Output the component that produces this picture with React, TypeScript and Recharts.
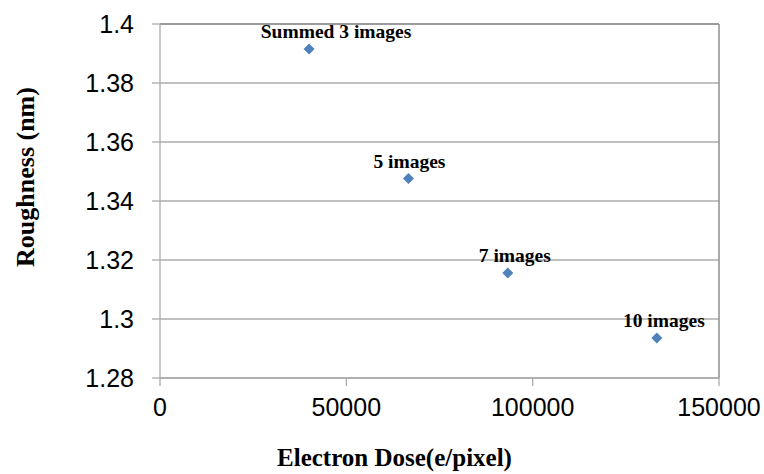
import { ScatterChart, Scatter, XAxis, YAxis, CartesianGrid, ReferenceLine } from "recharts";

// electron dose (e/pixel) vs roughness, one point per number of summed images
const labels = ["Summed 3 images", "5 images", "7 images", "10 images"];
const dose = [40000, 66667, 93333, 133333];
const roughness = [1.3915, 1.3476, 1.3156, 1.2936];

const xTicks = [0, 50000, 100000, 150000];
const yTicks = [1.28, 1.3, 1.32, 1.34, 1.36, 1.38, 1.4];

const points = labels.map((name, i) => ({ name, x: dose[i], y: roughness[i] }));

// Excel-style manual nudges of the data labels, in px
const labelNudge = [27, 1, 7, 7];

const SERIF = "'Liberation Serif', 'Times New Roman', serif";
const SANS = "'Liberation Sans', Arial, sans-serif";
const GRID = "#ababab";

function Marker(props: any) {
  const { cx, cy, payload, index } = props;
  const r = 5.5;
  const i = index ?? labels.indexOf(payload?.name);
  return (
    <g>
      <polygon
        points={`${cx},${cy - r} ${cx + r},${cy} ${cx},${cy + r} ${cx - r},${cy}`}
        fill="#4f81bd"
      />
      <text
        x={cx + (labelNudge[i] ?? 0)}
        y={cy - 11}
        textAnchor="middle"
        fontFamily={SERIF}
        fontWeight="bold"
        fontSize={19.5}
        fill="#000"
      >
        {payload?.name}
      </text>
    </g>
  );
}

const fmt = (v: number) => String(Number(v.toFixed(2)));

export default function App() {
  return (
    <div style={{ position: "absolute", left: 0, top: 0, background: "#fff" }}>
      <ScatterChart
        width={764}
        height={474}
        margin={{ top: 24, right: 45, bottom: 0, left: 0 }}
      >
        <CartesianGrid vertical={false} stroke={GRID} strokeWidth={1.3} />
        <XAxis
          type="number"
          dataKey="x"
          domain={[0, 150000]}
          ticks={xTicks}
          height={96}
          interval={0}
          stroke={GRID}
          strokeWidth={1.3}
          tickSize={8}
          tickMargin={12}
          tick={{ fill: "#000", fontFamily: SANS, fontSize: 25 }}
          label={{
            content: ({ viewBox }: any) => (
              <text
                x={viewBox.x + viewBox.width / 2 - 45}
                y={466}
                textAnchor="middle"
                fontFamily={SERIF}
                fontWeight="bold"
                fontSize={25}
                fill="#000"
              >
                Electron Dose(e/pixel)
              </text>
            ),
          }}
        />
        <YAxis
          type="number"
          dataKey="y"
          domain={[1.28, 1.4]}
          ticks={yTicks}
          width={160}
          interval={0}
          stroke={GRID}
          strokeWidth={1.3}
          tickSize={8}
          tickMargin={18}
          tickFormatter={fmt}
          tick={{ fill: "#000", fontFamily: SANS, fontSize: 25 }}
          label={{
            content: () => (
              <text
                transform="translate(34,177) rotate(-90)"
                textAnchor="middle"
                fontFamily={SERIF}
                fontWeight="bold"
                fontSize={26}
                fill="#000"
              >
                Roughness (nm)
              </text>
            ),
          }}
        />
        <ReferenceLine x={150000} stroke="#8f8f8f" strokeWidth={1.5} />
        <ReferenceLine y={1.4} stroke="#8f8f8f" strokeWidth={1.5} />
        <Scatter data={points} shape={<Marker />} isAnimationActive={false} />
      </ScatterChart>
    </div>
  );
}
